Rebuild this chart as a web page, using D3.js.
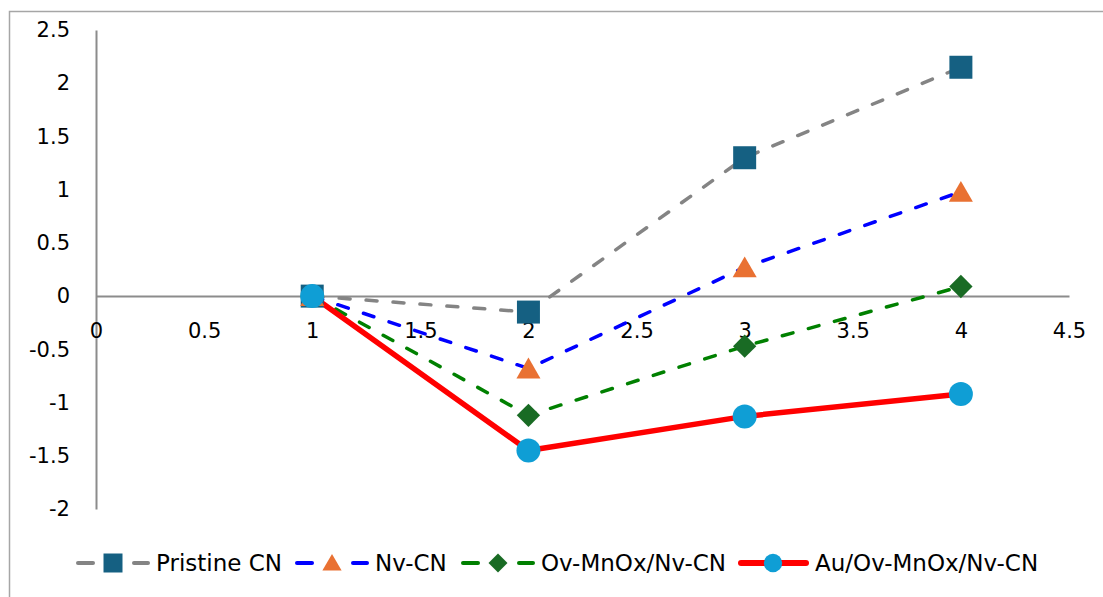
<!DOCTYPE html>
<html><head><meta charset="utf-8">
<script src="https://cdn.jsdelivr.net/npm/d3@7"></script>
<style>body{margin:0;background:#fff}svg{display:block;font-family:"DejaVu Sans",sans-serif}</style>
</head><body><div id="c"></div>
<script>
const xValues = [1, 2, 3, 4];
const pristineCN = [0, -0.15, 1.30, 2.15];
const nvCN = [0, -0.68, 0.27, 0.98];
const ovMnOxNvCN = [0, -1.12, -0.47, 0.09];
const auOvMnOxNvCN = [0, -1.45, -1.13, -0.92];
const seriesNames = ["Pristine CN", "Nv-CN", "Ov-MnOx/Nv-CN", "Au/Ov-MnOx/Nv-CN"];
const xTicks = [0, 0.5, 1, 1.5, 2, 2.5, 3, 3.5, 4, 4.5];
const yTicks = [-2, -1.5, -1, -0.5, 0, 0.5, 1, 1.5, 2, 2.5];

const W = 1103, H = 597;
const svg = d3.select("#c").append("svg").attr("width", W).attr("height", H);
svg.append("rect").attr("x", 9.5).attr("y", 11.5).attr("width", W + 10).attr("height", H + 10)
  .attr("fill", "#fff").attr("stroke", "#a6a6a6").attr("stroke-width", 1.5);

const x = d3.scaleLinear().domain([0, 4.5]).range([96, 1069]);
const y = d3.scaleLinear().domain([-2, 2.5]).range([509, 30]);
const fmt = d => String(d);

// y axis
const yAx = svg.append("g").attr("transform", `translate(${x(0)},0)`)
  .call(d3.axisLeft(y).tickValues(yTicks).tickSize(0).tickPadding(26).tickFormat(fmt));
yAx.select(".domain").attr("stroke", "#8c8c8c").attr("stroke-width", 2);
yAx.selectAll("text").attr("font-size", 21).attr("fill", "#000").attr("font-family", "DejaVu Sans");

// x axis at y=0
const xAx = svg.append("g").attr("transform", `translate(0,${y(0)})`)
  .call(d3.axisBottom(x).tickValues(xTicks).tickSize(0).tickPadding(27).tickFormat(fmt));
xAx.select(".domain").attr("stroke", "#8c8c8c").attr("stroke-width", 2);
xAx.selectAll("text").attr("font-size", 21).attr("fill", "#000").attr("font-family", "DejaVu Sans");

const series = [
  {name: seriesNames[0], vals: pristineCN, line: "#848484", dash: "11,16", w: 3.5, marker: "square", mc: "#156082"},
  {name: seriesNames[1], vals: nvCN, line: "#0000ff", dash: "11,16", w: 3.5, marker: "triangle", mc: "#e97132"},
  {name: seriesNames[2], vals: ovMnOxNvCN, line: "#008000", dash: "11,16", w: 3.5, marker: "diamond", mc: "#196b24"},
  {name: seriesNames[3], vals: auOvMnOxNvCN, line: "#ff0000", dash: null, w: 5.5, marker: "circle", mc: "#0f9ed5"}
];
const symMap = {
  square: d3.symbol().type(d3.symbolSquare).size(23*23),
  triangle: d3.symbol().type(d3.symbolTriangle).size(250),
  diamond: d3.symbol().type(d3.symbolSquare).size(16.5*16.5),
  circle: d3.symbol().type(d3.symbolCircle).size(Math.PI*12*12)
};
const lineGen = d3.line().x((d, i) => x(xValues[i])).y(d => y(d));
series.forEach(s => {
  svg.append("path").attr("d", lineGen(s.vals)).attr("fill", "none").attr("stroke", s.line)
    .attr("stroke-width", s.w).attr("stroke-dasharray", s.dash).attr("stroke-linecap", "round")
    .attr("stroke-linejoin", "round");
});
series.forEach(s => {
  s.vals.forEach((v, i) => {
    const rot = s.marker === "diamond" ? 45 : 0;
    const dy = s.marker === "triangle" ? 3 : 0;
    svg.append("path").attr("d", symMap[s.marker]())
      .attr("transform", `translate(${x(xValues[i])},${y(v) + dy}) rotate(${rot})`)
      .attr("fill", s.mc);
  });
});

// legend
const ly = 563;
const leg = [
  {x0: 78, tx: 156},
  {x0: 297, tx: 375},
  {x0: 463, tx: 541}
];
series.slice(0, 3).forEach((s, k) => {
  const L = leg[k];
  [[L.x0, L.x0 + 15], [L.x0 + 56, L.x0 + 70]].forEach(([a, b]) => {
    svg.append("line").attr("x1", a).attr("x2", b).attr("y1", ly).attr("y2", ly)
      .attr("stroke", s.line).attr("stroke-width", 4).attr("stroke-linecap", "round");
  });
  const rot = s.marker === "diamond" ? 45 : 0;
  const sz = s.marker === "square" ? 19*19 : s.marker === "diamond" ? 13.4*13.4 : 160;
  const typ = s.marker === "triangle" ? d3.symbolTriangle : d3.symbolSquare;
  svg.append("path").attr("d", d3.symbol().type(typ).size(sz)())
    .attr("transform", `translate(${L.x0 + 35},${ly + (s.marker === "triangle" ? 2 : 0)}) rotate(${rot})`)
    .attr("fill", s.mc);
  svg.append("text").attr("x", L.tx).attr("y", ly).attr("dy", "0.36em").attr("font-size", 23).text(s.name);
});
const s3 = series[3];
svg.append("line").attr("x1", 741).attr("x2", 806).attr("y1", ly).attr("y2", ly)
  .attr("stroke", s3.line).attr("stroke-width", 6).attr("stroke-linecap", "round");
svg.append("circle").attr("cx", 773).attr("cy", ly).attr("r", 9.2).attr("fill", s3.mc);
svg.append("text").attr("x", 815).attr("y", ly).attr("dy", "0.36em").attr("font-size", 23).text(s3.name);
</script></body></html>
